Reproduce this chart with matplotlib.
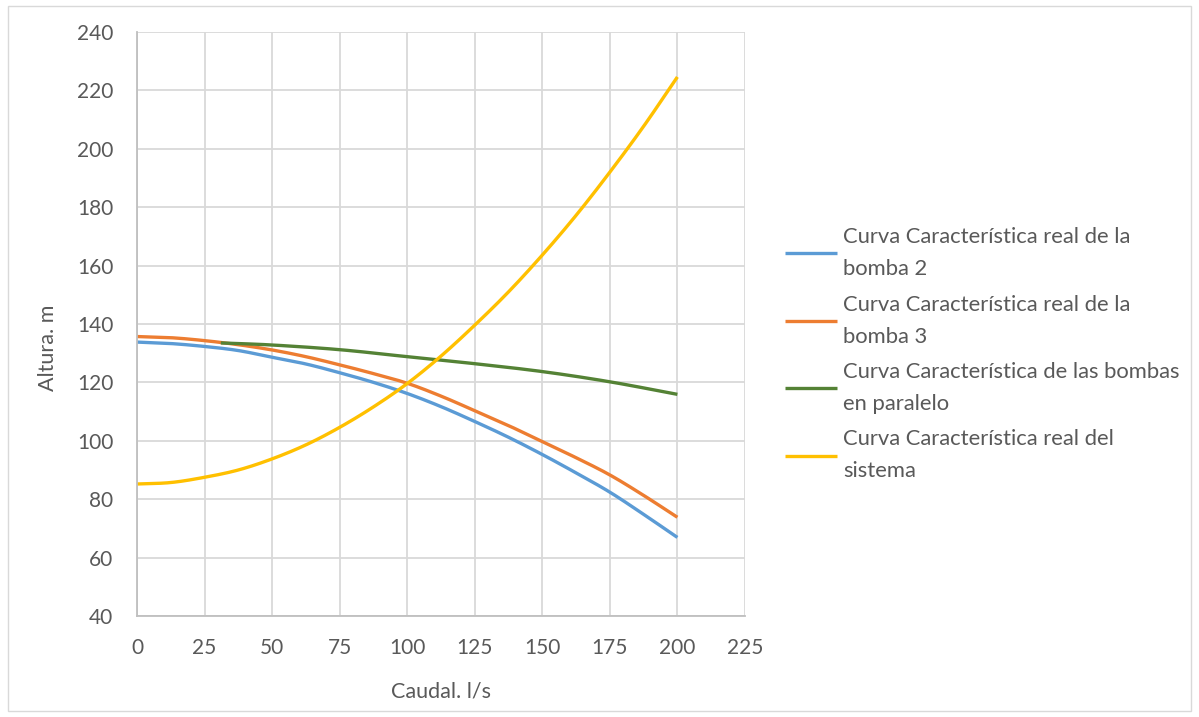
import matplotlib
matplotlib.use("Agg")
import matplotlib.pyplot as plt
import numpy as np
from matplotlib.patches import Rectangle

# values (caudal l/s -> altura m)
q = [0, 12.5, 25, 37.5, 50, 62.5, 75, 87.5, 100, 112.5, 125, 137.5, 150, 162.5, 175, 187.5, 200]
h_bomba2 = [133.8, 133.3, 132.3, 130.9, 128.6, 126.3, 123.3, 120.0, 116.2, 111.7, 106.6, 101.2, 95.3, 89.0, 82.4, 74.8, 66.9]
h_bomba3 = [135.7, 135.3, 134.3, 132.9, 131.1, 128.8, 126.0, 123.0, 119.7, 115.3, 110.3, 105.2, 99.7, 94.2, 88.3, 81.3, 73.8]
q_paralelo = [31, 50, 75, 100, 125, 150, 175, 200]
h_paralelo = [133.5, 132.8, 131.2, 128.8, 126.4, 123.7, 120.2, 115.9]
h_sistema = [85.2, 85.7, 87.5, 90.0, 93.8, 98.6, 104.6, 111.6, 119.6, 129.0, 139.6, 151.0, 163.6, 177.2, 192.0, 207.7, 224.6]

labels = [
    "Curva Característica real de la\nbomba 2",
    "Curva Característica real de la\nbomba 3",
    "Curva Característica de las bombas\nen paralelo",
    "Curva Característica real del\nsistema",
]
colors = ["#5B9BD5", "#ED7D31", "#548235", "#FFC000"]


def smooth(x, y, n=20):
    # Catmull-Rom through the points, like Excel's "smoothed line" option
    x = np.asarray(x, float)
    y = np.asarray(y, float)
    px = np.concatenate([[2 * x[0] - x[1]], x, [2 * x[-1] - x[-2]]])
    py = np.concatenate([[2 * y[0] - y[1]], y, [2 * y[-1] - y[-2]]])
    t = np.linspace(0, 1, n, endpoint=False)[:, None]
    out_x, out_y = [], []
    for i in range(1, len(px) - 2):
        for arr, out in ((px, out_x), (py, out_y)):
            p0, p1, p2, p3 = arr[i - 1], arr[i], arr[i + 1], arr[i + 2]
            v = 0.5 * (2 * p1 + (-p0 + p2) * t + (2 * p0 - 5 * p1 + 4 * p2 - p3) * t ** 2
                       + (-p0 + 3 * p1 - 3 * p2 + p3) * t ** 3)
            out.extend(v.ravel())
    out_x.append(x[-1])
    out_y.append(y[-1])
    return out_x, out_y


plt.rcParams["font.family"] = ["Lato", "DejaVu Sans"]
txt = "#595959"

fig = plt.figure(figsize=(11.99, 7.17), dpi=100)
ax = fig.add_axes([0.1143, 0.1409, 0.507, 0.8145])

ax.plot(*smooth(q, h_bomba2), color=colors[0], lw=2.4, label=labels[0], solid_capstyle="butt")
ax.plot(*smooth(q, h_bomba3), color=colors[1], lw=2.4, label=labels[1], solid_capstyle="butt")
ax.plot(*smooth(q_paralelo, h_paralelo), color=colors[2], lw=2.4, label=labels[2], solid_capstyle="butt")
ax.plot(*smooth(q, h_sistema), color=colors[3], lw=2.4, label=labels[3], solid_capstyle="butt")

ax.set_xlim(0, 225)
ax.set_ylim(40, 240)
ax.set_xticks(range(0, 226, 25))
ax.set_yticks(range(40, 241, 20))
ax.grid(True, color="#d9d9d9", lw=1.3)
ax.set_axisbelow(True)
for s in ["top", "right"]:
    ax.spines[s].set_visible(False)
for s in ["left", "bottom"]:
    ax.spines[s].set_color("#bfbfbf")
    ax.spines[s].set_linewidth(1.3)
ax.tick_params(length=0, labelsize=15, colors=txt)
ax.tick_params(axis="x", pad=16)
ax.tick_params(axis="y", pad=17)
ax.set_xlabel("Caudal. l/s", fontsize=15.5, color=txt)
ax.xaxis.set_label_coords(0.5, -0.112)
ax.set_ylabel("Altura. m", fontsize=15.5, color=txt)
ax.yaxis.set_label_coords(-0.13, 0.46)

leg = fig.legend(loc="center left", bbox_to_anchor=(0.638, 0.506), frameon=False,
                 labelcolor=txt, handlelength=2.4, handletextpad=0.25,
                 labelspacing=0.7, prop={"size": 15.8})
for t in leg.get_texts():
    t.set_linespacing(1.75)

fig.patches.append(Rectangle((0.007, 0.008), 0.986, 0.984, transform=fig.transFigure,
                             fill=False, edgecolor="#d9d9d9", lw=1))

fig.savefig("out.png", dpi=100)
